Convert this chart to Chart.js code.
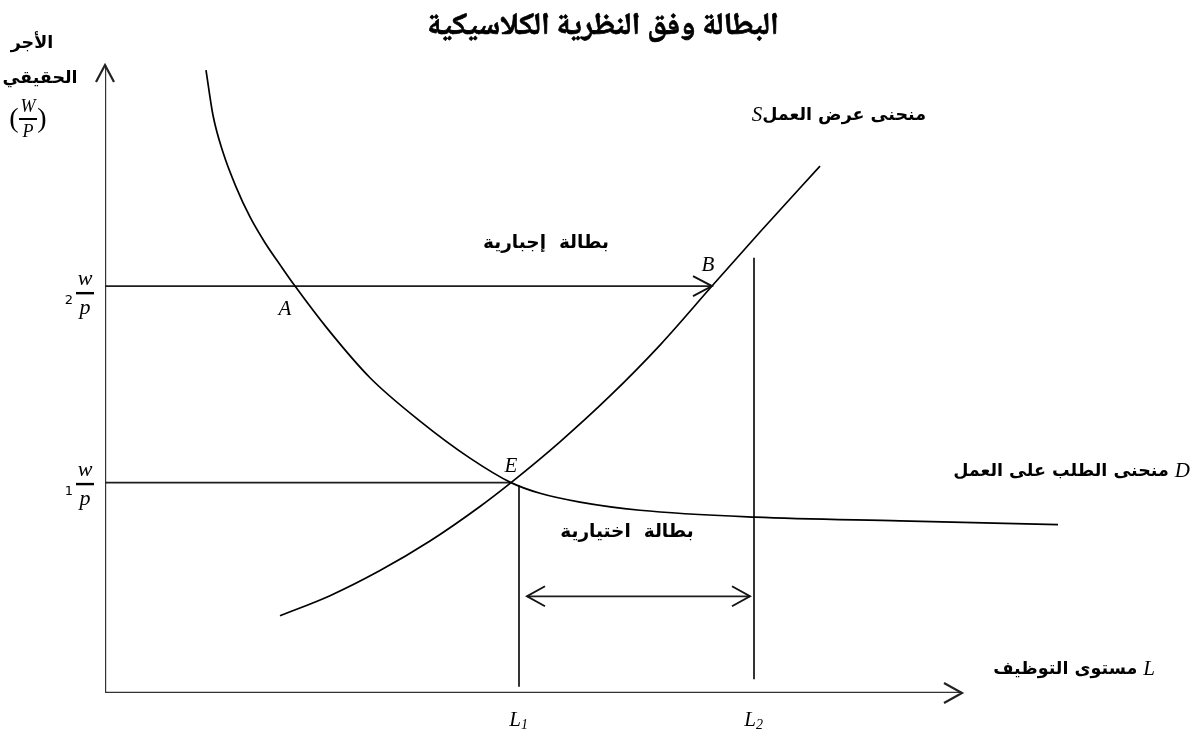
<!DOCTYPE html>
<html><head><meta charset="utf-8">
<script src="https://cdn.jsdelivr.net/npm/chart.js@4/dist/chart.umd.min.js"></script>
<style>html,body{margin:0;padding:0;background:#fff}canvas{display:block}</style>
</head><body>
<canvas id="c" width="1199" height="736"></canvas>
<script>
// ---- data (employment L, real wage W/P, arbitrary units) ----
const chartTitle = 'البطالة وفق النظرية الكلاسيكية';
const demandL = [10.1, 10.8, 11.8, 13.1, 14.5, 16.0, 17.5, 19.0, 22.2, 26.5, 31.5, 36.5, 40.6, 43.5, 47.5, 53.5, 65.0, 79.5, 95.3];
const demandW = [99.2, 92.0, 86.1, 80.6, 75.8, 71.7, 68.2, 64.8, 58.1, 50.2, 43.3, 37.4, 33.5, 31.8, 30.4, 29.1, 28.0, 27.4, 26.8];
const supplyL = [17.5, 22.5, 27.5, 32.5, 37.5, 40.6, 45.5, 50.5, 55.5, 60.7, 65.5, 71.5];
const supplyW = [12.3, 15.5, 19.5, 24.2, 29.7, 33.5, 40.0, 47.3, 55.4, 64.8, 73.4, 83.9];
const wageLevels = [33.5, 64.8];          // (w/p)1 , (w/p)2
const employmentLevels = [41.4, 64.9];    // L1 , L2
const levelTops = [33.1, 69.3];           // top of the L1 / L2 verticals
const levelBottoms = [1.0, 2.2];          // bottom of the L1 / L2 verticals
const pointEL = 40.6, pointBL = 60.7;     // employment at E and B
const voluntaryRange = [42.2, 64.5];      // span of the voluntary unemployment arrow
const voluntaryWage = 15.4;
const axisEnds = [85.7, 100];             // x axis end, y axis end

const pts = (xs, ys) => xs.map((x, i) => ({x, y: ys[i]}));
const seg = (x1, y1, x2, y2) => [{x: x1, y: y1}, {x: x2, y: y2}];

const curveStyle = {borderColor: '#000', borderWidth: 1.7, pointRadius: 0, showLine: true, fill: false};
const lineStyle = {borderColor: '#1e1e1e', borderWidth: 1.8, pointRadius: 0, showLine: true, fill: false, tension: 0};
const axisStyle = {borderColor: '#333', borderWidth: 2.4, pointRadius: 0, showLine: true, fill: false, tension: 0};

const datasets = [
  {label: 'D', data: pts(demandL, demandW), ...curveStyle, tension: 0.4, cubicInterpolationMode: 'monotone'},
  {label: 'S', data: pts(supplyL, supplyW), ...curveStyle, tension: 0.4, cubicInterpolationMode: 'monotone'},
  {label: 'w2', data: seg(0, wageLevels[1], pointBL, wageLevels[1]), ...lineStyle},
  {label: 'w1', data: seg(0, wageLevels[0], pointEL, wageLevels[0]), ...lineStyle},
  {label: 'L1', data: seg(employmentLevels[0], levelTops[0], employmentLevels[0], levelBottoms[0]), ...lineStyle},
  {label: 'L2', data: seg(employmentLevels[1], levelTops[1], employmentLevels[1], levelBottoms[1]), ...lineStyle},
  {label: 'vol', data: seg(voluntaryRange[0], voluntaryWage, voluntaryRange[1], voluntaryWage), ...lineStyle},
  {label: 'xAxis', data: seg(0, 0, axisEnds[0], 0), ...axisStyle},
  {label: 'yAxis', data: seg(0, 0, 0, axisEnds[1]), ...axisStyle}
];

const NASKH = '"Noto Naskh Arabic", "Noto Sans Arabic", "DejaVu Sans"';
const AR = 'bold 17.5px "DejaVu Sans"';
const AR2 = 'bold 18.5px "DejaVu Sans"';
const LAT = 'italic 21px "Liberation Serif"';

function openHead(ctx, x, y, dx, dy, len, half) {
  const n = Math.hypot(dx, dy); dx /= n; dy /= n;
  const bx = x - dx * len, by = y - dy * len;
  ctx.beginPath();
  ctx.moveTo(bx - dy * half, by + dx * half);
  ctx.lineTo(x, y);
  ctx.lineTo(bx + dy * half, by - dx * half);
  ctx.stroke();
}

const decor = {
  id: 'decor',
  afterDatasetsDraw(chart) {
    const {ctx, scales: {x, y}} = chart;
    const X = v => x.getPixelForValue(v), Y = v => y.getPixelForValue(v);
    ctx.save();
    ctx.lineCap = 'butt'; ctx.lineJoin = 'miter';
    // arrow heads
    ctx.strokeStyle = '#222'; ctx.lineWidth = 2.2;
    openHead(ctx, X(axisEnds[0]), Y(0), 1, 0, 18, 10);
    openHead(ctx, X(0), Y(axisEnds[1]), 0, -1, 17, 9);
    ctx.strokeStyle = '#111'; ctx.lineWidth = 1.9;
    openHead(ctx, X(pointBL), Y(wageLevels[1]), 1, 0, 19, 10);
    openHead(ctx, X(voluntaryRange[1]), Y(voluntaryWage), 1, 0, 18, 10);
    openHead(ctx, X(voluntaryRange[0]), Y(voluntaryWage), -1, 0, 18, 10);

    ctx.fillStyle = '#000';
    ctx.textBaseline = 'middle';
    // title (naskh, emboldened)
    ctx.font = 'bold 31px ' + NASKH; ctx.textAlign = 'center';
    ctx.strokeStyle = '#000'; ctx.lineWidth = 0.7; ctx.lineJoin = 'round';
    ctx.fillText(chartTitle, 603, 30);
    ctx.strokeText(chartTitle, 603, 30);
    // y axis title
    ctx.font = AR;
    ctx.fillText('الأجر', 32, 43);
    ctx.fillText('الحقيقي', 40, 78);
    ctx.font = '28px "Liberation Serif"';
    ctx.fillText('(', 14, 120); ctx.fillText(')', 42, 120);
    ctx.font = 'italic 18px "Liberation Serif"';
    ctx.fillText('W', 28, 107); ctx.fillText('P', 28, 132);
    ctx.fillRect(19, 118, 18, 2);

    // w/p tick labels
    const wp = (yv, sub) => {
      const py = Y(yv);
      ctx.font = 'italic 22px "Liberation Serif"'; ctx.textAlign = 'center';
      ctx.fillText('w', 85, py - 14);
      ctx.fillText('p', 85, py + 15);
      ctx.fillRect(76, py - 1, 18, 2.4);
      ctx.font = '13px "DejaVu Sans"';
      ctx.fillText(sub, 69, py + 8);
    };
    wp(wageLevels[1] - 1.1, '2');
    wp(wageLevels[0] - 0.2, '1');

    // point letters
    ctx.font = LAT; ctx.textAlign = 'center';
    ctx.fillText('A', X(18.0), Y(61.0));
    ctx.fillText('B', X(60.3), Y(68.0));
    ctx.fillText('E', X(40.6), Y(36.1));
    // L1, L2
    const sub = (main, s, xv) => {
      ctx.font = LAT; ctx.textAlign = 'right';
      ctx.fillText(main, X(xv) + 2, Y(-4.3));
      ctx.font = 'italic 14px "Liberation Serif"'; ctx.textAlign = 'left';
      ctx.fillText(s, X(xv) + 2, Y(-4.3) + 5);
    };
    sub('L', '1', employmentLevels[0]);
    sub('L', '2', employmentLevels[1]);

    // Arabic annotations
    ctx.font = AR2; ctx.textAlign = 'center';
    ctx.fillText('بطالة  إجبارية', X(44.1), Y(71.7));
    ctx.fillText('بطالة  اختيارية', X(52.2), Y(25.6));

    const mixed = (arabic, letter, rightEdgeV, yv, letterRight) => {
      const py = Y(yv);
      ctx.font = AR;
      const aw = ctx.measureText(arabic).width;
      ctx.font = LAT;
      const lw = ctx.measureText(letter).width;
      const re = X(rightEdgeV);
      if (letterRight) {
        ctx.textAlign = 'right'; ctx.font = LAT;
        ctx.fillText(letter, re, py);
        ctx.font = AR; ctx.fillText(arabic, re - lw - 6, py);
      } else {
        ctx.textAlign = 'right'; ctx.font = AR;
        ctx.fillText(arabic, re, py);
        ctx.font = LAT; ctx.fillText(letter, re - aw, py);
      }
    };
    mixed('منحنى عرض العمل', 'S', 82.1, 92.0, false);
    mixed('منحنى الطلب على العمل', 'D', 108.5, 35.2, true);
    mixed('مستوى التوظيف', 'L', 105.0, 3.7, true);
    ctx.restore();
  }
};

new Chart(document.getElementById('c'), {
  type: 'scatter',
  data: {datasets},
  options: {
    responsive: false, animation: false, devicePixelRatio: 1, events: [],
    layout: {padding: {left: 105, right: 94, top: 65, bottom: 43}},
    scales: {
      x: {type: 'linear', min: 0, max: 100, display: false},
      y: {type: 'linear', min: 0, max: 100, display: false}
    },
    plugins: {legend: {display: false}, tooltip: {enabled: false}, title: {display: false}}
  },
  plugins: [decor]
});
</script>
</body></html>
